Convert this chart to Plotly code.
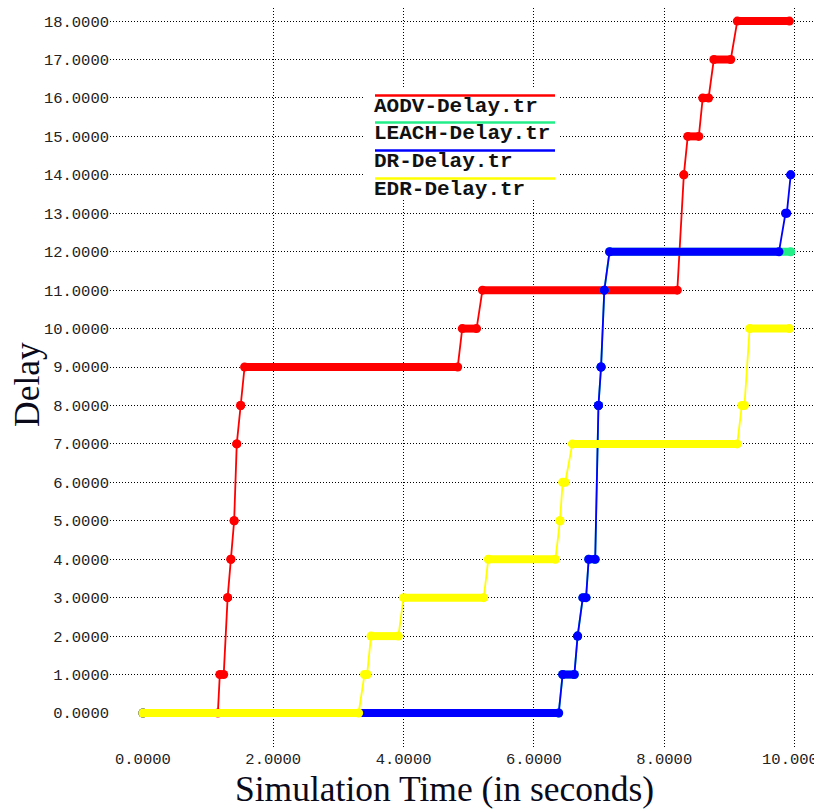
import plotly.graph_objects as go

# ---------------- data ----------------
series_names = ["AODV-Delay.tr", "LEACH-Delay.tr", "DR-Delay.tr", "EDR-Delay.tr"]
series_colors = ["#ff0000", "#22ee88", "#0000ff", "#ffff00"]

aodv_level = [0, 1, 3, 4, 5, 7, 8, 9, 10, 11, 14, 15, 16, 17, 18]
aodv_start = [0.00, 1.18, 1.30, 1.35, 1.40, 1.44, 1.50, 1.56, 4.90, 5.21, 8.30, 8.36, 8.59, 8.76, 9.12]
aodv_end   = [1.15, 1.24, 1.30, 1.35, 1.40, 1.44, 1.50, 4.83, 5.12, 8.20, 8.30, 8.53, 8.68, 9.02, 9.92]

leach_level = [0, 1, 2, 3, 4, 8, 9, 11, 12]
leach_start = [0.00, 6.44, 6.67, 6.75, 6.84, 6.99, 7.03, 7.08, 7.16]
leach_end   = [6.38, 6.62, 6.67, 6.80, 6.94, 6.99, 7.03, 7.08, 9.94]

dr_level = [0, 1, 2, 3, 4, 8, 9, 11, 12, 13, 14]
dr_start = [0.00, 6.44, 6.67, 6.75, 6.84, 6.99, 7.03, 7.08, 7.16, 9.86, 9.94]
dr_end   = [6.38, 6.62, 6.67, 6.80, 6.94, 6.99, 7.03, 7.08, 9.76, 9.88, 9.94]

edr_level = [0, 1, 2, 3, 4, 5, 6, 7, 8, 10]
edr_start = [0.00, 3.40, 3.50, 4.00, 5.30, 6.40, 6.44, 6.59, 9.19, 9.31]
edr_end   = [3.31, 3.44, 3.92, 5.23, 6.33, 6.40, 6.48, 9.12, 9.23, 9.92]

x_tickvals = [0, 2, 4, 6, 8, 10]
x_ticktext = ["0.0000", "2.0000", "4.0000", "6.0000", "8.0000", "10.0000"]
y_tickvals = list(range(0, 19))
y_ticktext = [f"{v}.0000" for v in y_tickvals]

x_title = "Simulation Time (in seconds)"
y_title = "Delay"

series = [
    (aodv_level, aodv_start, aodv_end),
    (leach_level, leach_start, leach_end),
    (dr_level, dr_start, dr_end),
    (edr_level, edr_start, edr_end),
]

# ---------------- figure ----------------
OFF = 8                      # page body margin
W, H = 822 - OFF, 812 - OFF
L, R, T, B = 102, 0, 0, 65

fig = go.Figure()

for (lvl, ts, te), name, col in zip(series, series_names, series_colors):
    # thin connecting path
    px_, py_ = [], []
    for l, a, b in zip(lvl, ts, te):
        px_ += [a, b]
        py_ += [l, l]
    fig.add_trace(go.Scatter(x=px_, y=py_, mode="lines", name=name,
                             line=dict(color=col, width=1.8), hoverinfo="skip",
                             showlegend=False))
    # thick plateaus
    tx, ty = [], []
    for l, a, b in zip(lvl, ts, te):
        tx += [a, b, None]
        ty += [l, l, None]
    fig.add_trace(go.Scatter(x=tx, y=ty, mode="lines+markers", name=name,
                             line=dict(color=col, width=8),
                             marker=dict(color=col, size=9, line=dict(width=0)),
                             showlegend=False))

fig.update_layout(
    width=W, height=H,
    margin=dict(l=L, r=R, t=T, b=B, autoexpand=False),
    paper_bgcolor="white", plot_bgcolor="white",
    showlegend=False,
)

grid_dash = "1px,2px"
fig.update_xaxes(
    range=[-0.505, 10.42], tickmode="array", tickvals=x_tickvals, ticktext=x_ticktext,
    showgrid=True, gridcolor="#000000", griddash=grid_dash, gridwidth=1,
    zeroline=True, zerolinecolor="rgba(0,0,0,0)", zerolinewidth=1,
    showline=False, ticks="", automargin=False, ticklabeloverflow="allow",
    tickfont=dict(family="Liberation Mono", size=15.5, color="#222222"),
)
fig.update_yaxes(
    range=[-0.885, 18.34], tickmode="array", tickvals=y_tickvals, ticktext=y_ticktext,
    showgrid=True, gridcolor="#000000", griddash=grid_dash, gridwidth=1,
    zeroline=True, zerolinecolor="rgba(0,0,0,0)", zerolinewidth=1,
    showline=False, ticks="", automargin=False, ticklabeloverflow="allow",
    tickfont=dict(family="Liberation Mono", size=15.5, color="#222222"),
)

PW, PH = W - L - R, H - T - B
def pxx(x):
    return (x - OFF - L) / PW
def pxy(y):
    return 1 - (y - OFF - T) / PH

# custom legend
shapes = [dict(type="rect", xref="paper", yref="paper",
               x0=pxx(365), x1=pxx(560), y0=pxy(200), y1=pxy(87),
               fillcolor="white", line=dict(width=0), layer="above")]
annotations = []
leg_line_y = [95.5, 122.5, 150.5, 178.5]
for i, (name, col) in enumerate(zip(series_names, series_colors)):
    yl = leg_line_y[i]
    shapes.append(dict(type="line", xref="paper", yref="paper",
                       x0=pxx(375), x1=pxx(555), y0=pxy(yl), y1=pxy(yl),
                       line=dict(color=col, width=2.5), layer="above"))
    annotations.append(dict(text=f"<b>{name}</b>", xref="paper", yref="paper",
                            x=pxx(372), y=pxy(yl + 11), xanchor="left", yanchor="middle",
                            showarrow=False,
                            font=dict(family="Liberation Mono", size=21, color="#111111")))

annotations.append(dict(text=x_title, xref="paper", yref="paper",
                        x=pxx(444), y=pxy(789), xanchor="center", yanchor="middle",
                        showarrow=False,
                        font=dict(family="Liberation Serif", size=35.5, color="#0a0a1a")))
annotations.append(dict(text=y_title, xref="paper", yref="paper",
                        x=pxx(27), y=pxy(385), xanchor="center", yanchor="middle",
                        textangle=-90, showarrow=False,
                        font=dict(family="Liberation Serif", size=35.5, color="#0a0a1a")))

fig.update_layout(shapes=shapes, annotations=annotations)

fig.write_html("out.html")
